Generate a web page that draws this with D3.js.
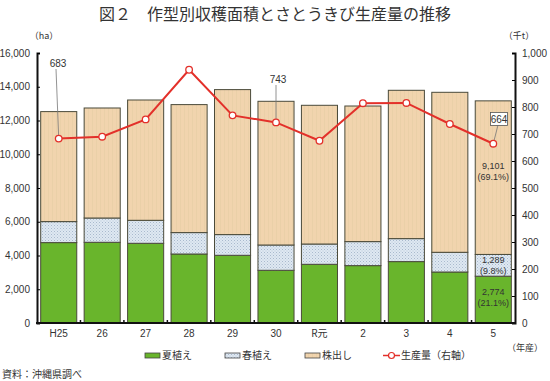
<!DOCTYPE html>
<html><head><meta charset="utf-8">
<script src="https://cdn.jsdelivr.net/npm/d3@7"></script>
<style>
body{margin:0;background:#fff;}
text{font-family:"Liberation Sans","Noto Sans CJK JP",sans-serif;fill:#333;}
.jp{font-family:"Noto Sans CJK JP",sans-serif;}
</style></head>
<body>
<svg id="c" width="550" height="381"></svg>
<script>
const categories = ["H25","26","27","28","29","30","R元","2","3","4","5"];
const summer = [4764,4782,4723,4089,4012,3123,3478,3400,3638,3022,2774];
const spring = [1245,1440,1363,1268,1227,1499,1203,1423,1362,1168,1289];
const ratoon  = [6518,6519,7129,7585,8592,8516,8220,8036,8790,9481,9101];
const production = [683,690,754,938,769,743,675,814,815,737,664];
const leftTicks = [0,2000,4000,6000,8000,10000,12000,14000,16000];
const rightTicks = [0,100,200,300,400,500,600,700,800,900,1000];
const seriesNames = ["夏植え","春植え","株出し"];
const lineName = "生産量（右軸）";

const svg = d3.select("#c");
const defs = svg.append("defs");
const pb = defs.append("pattern").attr("id","pBlue").attr("width",3).attr("height",3).attr("patternUnits","userSpaceOnUse");
pb.append("rect").attr("width",3).attr("height",3).attr("fill","#dfe8f2");
pb.append("rect").attr("x",0).attr("y",0).attr("width",1).attr("height",1).attr("fill","#a9bacd");
pb.append("rect").attr("x",1.5).attr("y",1.5).attr("width",1).attr("height",1).attr("fill","#b9c8d8");
const pt = defs.append("pattern").attr("id","pTan").attr("width",4).attr("height",4).attr("patternUnits","userSpaceOnUse");
pt.append("rect").attr("width",4).attr("height",4).attr("fill","#f1d4ae");
pt.append("rect").attr("x",0).attr("y",0).attr("width",1).attr("height",4).attr("fill","#ead0a8");

const fills = ["#69b52c","url(#pBlue)","url(#pTan)"];
const x0=37, x1=515, yB=323, yT=53;
const x = d3.scaleBand().domain(categories).range([x0,x1]).paddingInner(0.17).paddingOuter(0.085);
const y = d3.scaleLinear().domain([0,16000]).range([yB,yT]);
const y2 = d3.scaleLinear().domain([0,1000]).range([yB,yT]);

// title
svg.append("text").attr("class","jp").attr("x",275).attr("y",20).attr("text-anchor","middle")
  .attr("font-size",16).style("fill","#333").text("図２　作型別収穫面積とさとうきび生産量の推移");
svg.append("text").attr("class","jp").attr("x",44).attr("y",39).attr("text-anchor","middle").attr("font-size",9).text("（ha）");
svg.append("text").attr("class","jp").attr("x",519).attr("y",39).attr("text-anchor","middle").attr("font-size",9).text("（千t）");

// stacked bars
const data = categories.map((c,i)=>({cat:c, v:[summer[i],spring[i],ratoon[i]]}));
const stack = d3.stack().keys([0,1,2]).value((d,k)=>d.v[k]);
const layers = stack(data);
layers.forEach((layer,k)=>{
  svg.append("g").selectAll("rect").data(layer).join("rect")
    .attr("x",d=>x(d.data.cat)).attr("width",x.bandwidth())
    .attr("y",d=>y(d[1])).attr("height",d=>y(d[0])-y(d[1]))
    .attr("fill",fills[k]).attr("stroke","#4a4a3a").attr("stroke-width",1);
});

// axes
const gl = svg.append("g").attr("transform",`translate(${x0},0)`)
  .call(d3.axisRight(y).tickValues(leftTicks).tickSize(3).tickFormat(""));
gl.select(".domain").attr("stroke","#111").attr("stroke-width",2);
svg.append("g").selectAll("text").data(leftTicks).join("text")
  .attr("x",30).attr("y",d=>y(d)+3.5).attr("text-anchor","end").attr("font-size",10)
  .text(d=>d3.format(",")(d));
const gr = svg.append("g").attr("transform",`translate(${x1},0)`)
  .call(d3.axisLeft(y2).tickValues(rightTicks).tickSize(3).tickFormat(""));
gr.select(".domain").attr("stroke","#111").attr("stroke-width",2);
svg.append("g").selectAll("text").data(rightTicks).join("text")
  .attr("x",522).attr("y",d=>y2(d)+3.5).attr("text-anchor","start").attr("font-size",10)
  .text(d=>d3.format(",")(d));
svg.append("line").attr("x1",x0-1).attr("x2",x1+1).attr("y1",yB).attr("y2",yB).attr("stroke","#111").attr("stroke-width",2);
// bottom separators
const seps = categories.slice(1).map(c=>x(c)-x.step()*x.paddingInner()/2);
svg.append("g").selectAll("line").data(seps).join("line")
  .attr("x1",d=>d).attr("x2",d=>d).attr("y1",yB).attr("y2",yB-3).attr("stroke","#111").attr("stroke-width",1.5);
svg.append("g").selectAll("text").data(categories).join("text")
  .attr("class",d=>d==="R元"?"jp":null)
  .attr("x",d=>x(d)+x.bandwidth()/2).attr("y",337).attr("text-anchor","middle").attr("font-size",10).text(d=>d);

// line
const cx = d=>x(d)+x.bandwidth()/2;
const line = d3.line().x((d,i)=>cx(categories[i])).y(d=>y2(d));
svg.append("path").datum(production).attr("d",line).attr("fill","none").attr("stroke","#e3302a").attr("stroke-width",2);

// leader lines & labels
const lab = [[0,58,63,false],[5,278,79,false],[10,499,119,true]];
lab.forEach(([i,lx,ly,box])=>{
  const px=cx(categories[i]), py=y2(production[i]);
  svg.append("line").attr("x1",lx-(box?1:2)).attr("y1",ly+(box?6:6)).attr("x2",px).attr("y2",py)
    .attr("stroke","#777").attr("stroke-width",0.8);
  if(box) svg.append("rect").attr("x",lx-8.5).attr("y",ly-6.5).attr("width",17).attr("height",13)
    .attr("fill","#fff").attr("stroke","#555").attr("stroke-width",0.8);
  svg.append("text").attr("x",lx).attr("y",ly+3.5).attr("text-anchor","middle").attr("font-size",10).text(production[i]);
});

svg.append("g").selectAll("circle").data(production).join("circle")
  .attr("cx",(d,i)=>cx(categories[i])).attr("cy",d=>y2(d)).attr("r",3.3)
  .attr("fill","#fff").attr("stroke","#e3302a").attr("stroke-width",1.3);

// last bar annotations
const li = categories.length-1;
const tot = summer[li]+spring[li]+ratoon[li];
const pct = v=>"("+d3.format(".1f")(v/tot*100)+"%)";
const bxc = cx(categories[li]);
const ann = [[ratoon[li],166],[spring[li],260],[summer[li],292]];
ann.forEach(([v,yy])=>{
  svg.append("text").attr("x",bxc).attr("y",yy+3).attr("text-anchor","middle").attr("font-size",9).text(d3.format(",")(v));
  svg.append("text").attr("x",bxc).attr("y",yy+14).attr("text-anchor","middle").attr("font-size",9).text(pct(v));
});

// legend
svg.append("text").attr("class","jp").attr("x",525).attr("y",351).attr("text-anchor","middle").attr("font-size",9).text("（年産）");
const lx = [145,225,305];
seriesNames.forEach((n,k)=>{
  svg.append("rect").attr("x",lx[k]).attr("y",353).attr("width",15).attr("height",5)
    .attr("fill",fills[k]).attr("stroke","#444").attr("stroke-width",0.8);
  svg.append("text").attr("class","jp").attr("x",lx[k]+17).attr("y",359).attr("font-size",10).text(n);
});
svg.append("line").attr("x1",383).attr("x2",400).attr("y1",355.5).attr("y2",355.5).attr("stroke","#e3302a").attr("stroke-width",1.5);
svg.append("circle").attr("cx",391.5).attr("cy",355.5).attr("r",3).attr("fill","#fff").attr("stroke","#e3302a").attr("stroke-width",1.2);
svg.append("text").attr("class","jp").attr("x",401).attr("y",359).attr("font-size",10).text(lineName);
svg.append("text").attr("class","jp").attr("x",2).attr("y",378).attr("font-size",10).text("資料：沖縄県調べ");
</script>
</body></html>
